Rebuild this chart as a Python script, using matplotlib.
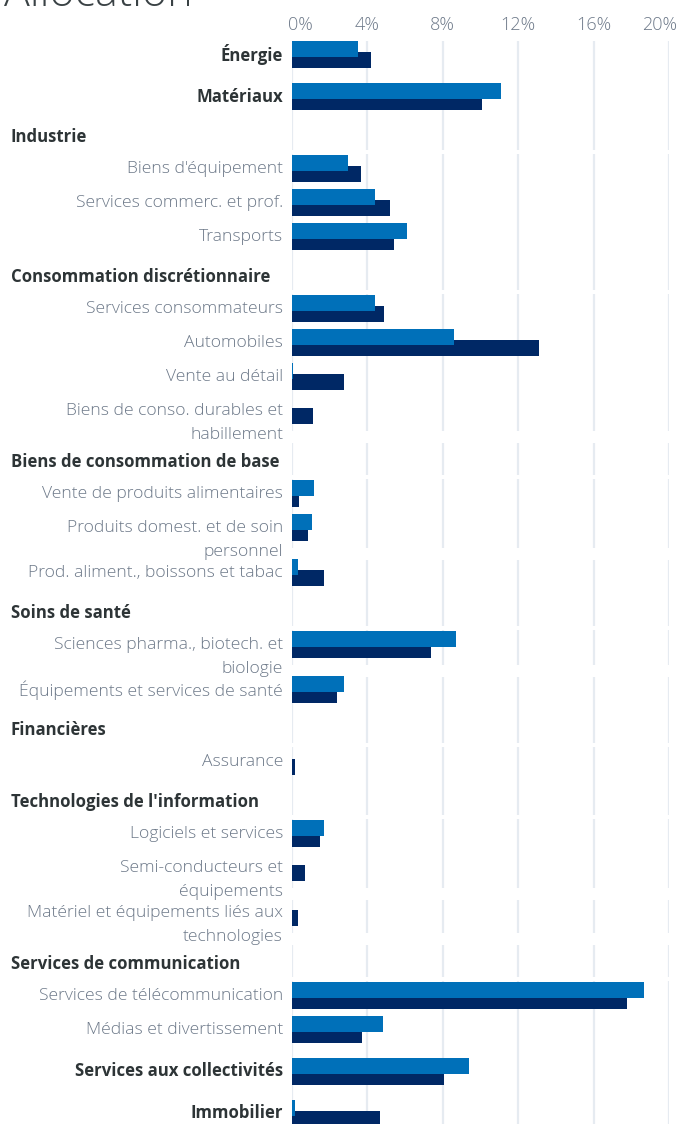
import numpy as np
import matplotlib
matplotlib.use('Agg')
import matplotlib.pyplot as plt
import matplotlib.transforms as mtransforms

# rows: kind 'sector' = bold with bars, 'head' = bold header w/o bars, 'sub'
labels = ["Énergie", "Matériaux", "Industrie", "Biens d'équipement",
          "Services commerc. et prof.", "Transports", "Consommation discrétionnaire",
          "Services consommateurs", "Automobiles", "Vente au détail",
          "Biens de conso. durables et\nhabillement", "Biens de consommation de base",
          "Vente de produits alimentaires", "Produits domest. et de soin\npersonnel",
          "Prod. aliment., boissons et tabac", "Soins de santé",
          "Sciences pharma., biotech. et\nbiologie", "Équipements et services de santé",
          "Financières", "Assurance", "Technologies de l'information",
          "Logiciels et services", "Semi-conducteurs et\néquipements",
          "Matériel et équipements liés aux\ntechnologies", "Services de communication",
          "Services de télécommunication", "Médias et divertissement",
          "Services aux collectivités", "Immobilier"]
kinds = ["sector", "sector", "head", "sub", "sub", "sub", "head", "sub", "sub", "sub",
         "sub", "head", "sub", "sub", "sub", "head", "sub", "sub", "head", "sub", "head",
         "sub", "sub", "sub", "head", "sub", "sub", "sector", "sector"]
# values in % (None for header rows)
fund = [3.5, 11.1, None, 3.0, 4.45, 6.1, None, 4.45, 8.6, 0.1, 0.0, None, 1.2, 1.1,
        0.35, None, 8.7, 2.8, None, 0.0, None, 1.7, 0.0, 0.0, None, 18.7, 4.87, 9.4, 0.18]
bench = [4.2, 10.1, None, 3.7, 5.2, 5.45, None, 4.9, 13.1, 2.8, 1.15, None, 0.4, 0.9,
         1.7, None, 7.4, 2.4, None, 0.2, None, 1.5, 0.7, 0.35, None, 17.8, 3.75, 8.07, 4.67]
ticks = [0, 4, 8, 12, 16, 20]
tick_labels = ["0%", "4%", "8%", "12%", "16%", "20%"]

c_fund = "#0070b9"
c_bench = "#002865"
c_grid = "#e6ebf1"
c_lab = "#6d7989"
c_head = "#2d3436"

W, H = 679, 1124
fig = plt.figure(figsize=(W / 100, H / 100), dpi=100)
x0, x1 = 291.5, 669
ax = fig.add_axes([x0 / W, 0, (x1 - x0) / W, 1])
ax.set_xlim(0, 20)
ax.set_ylim(H, 0)
ax.axis('off')

# vertical layout (pixels from top)
ys = []
y = 54.5
for i, k in enumerate(kinds):
    if i > 0:
        prev2 = "\n" in labels[i - 1]
        if k == "head":
            step = 39
        elif kinds[i - 1] == "head":
            step = 33
        else:
            step = 34
        if prev2:
            step += 11
        if k == "sector":
            step += 8
        y += step
    ys.append(y)
ys = np.array(ys)

# gridline segments, with gaps after headers and at wrapped label lines
cuts = []
for i, k in enumerate(kinds):
    if k == "head":
        m = (ys[i] + ys[i + 1]) / 2
        cuts.append((m - 2, m + 2))
    if "\n" in labels[i]:
        cuts.append((ys[i] + 20, ys[i] + 32))
segs = []
start = ys[0] - 13.5
for a, b in cuts:
    segs.append((start, a))
    start = b
segs.append((start, H))
for a, b in segs:
    ax.vlines(ticks, a, b, color=c_grid, lw=1.6, zorder=0)

bh = 16
off = 5.5
for i, k in enumerate(kinds):
    if k == "head":
        continue
    ax.barh(ys[i] + off, bench[i], height=bh, color=c_bench, zorder=2)
    ax.barh(ys[i] - off, fund[i], height=bh, color=c_fund, zorder=3)

trans = mtransforms.blended_transform_factory(ax.transAxes, ax.transData)
lx = (283 - x0) / (x1 - x0)
hx = (11 - x0) / (x1 - x0)
font = "Open Sans"
for i, k in enumerate(kinds):
    if k == "head":
        ax.text(hx, ys[i] + 1.5, labels[i], transform=trans, ha='left', va='center',
                fontsize=12.1, fontweight='bold', color=c_head, family=font)
    elif k == "sector":
        ax.text(lx, ys[i], labels[i], transform=trans, ha='right', va='center',
                fontsize=12.1, fontweight='bold', color=c_head, family=font)
    else:
        for j, line in enumerate(labels[i].split("\n")):
            ax.text(lx, ys[i] + 0.5 + 24 * j, line, transform=trans, ha='right',
                    va='center', fontsize=12.6, fontweight='light', color=c_lab,
                    family=font)

for t, tl in zip(ticks, tick_labels):
    ha = 'center'
    dx = 0
    if t == ticks[0]:
        ha, dx = 'left', -0.18
    if t == ticks[-1]:
        ha, dx = 'right', 0.45
    ax.text(t + dx, 25, tl, ha=ha, va='center', fontsize=13, fontweight='light',
            color=c_lab, family=font, clip_on=False)

fig.text(4 / W, 1 - 6 / H, "Allocation", ha='left', va='baseline', fontsize=31,
         fontweight='light', color="#3a4245", family=font)

fig.savefig("out.png", dpi=100)
